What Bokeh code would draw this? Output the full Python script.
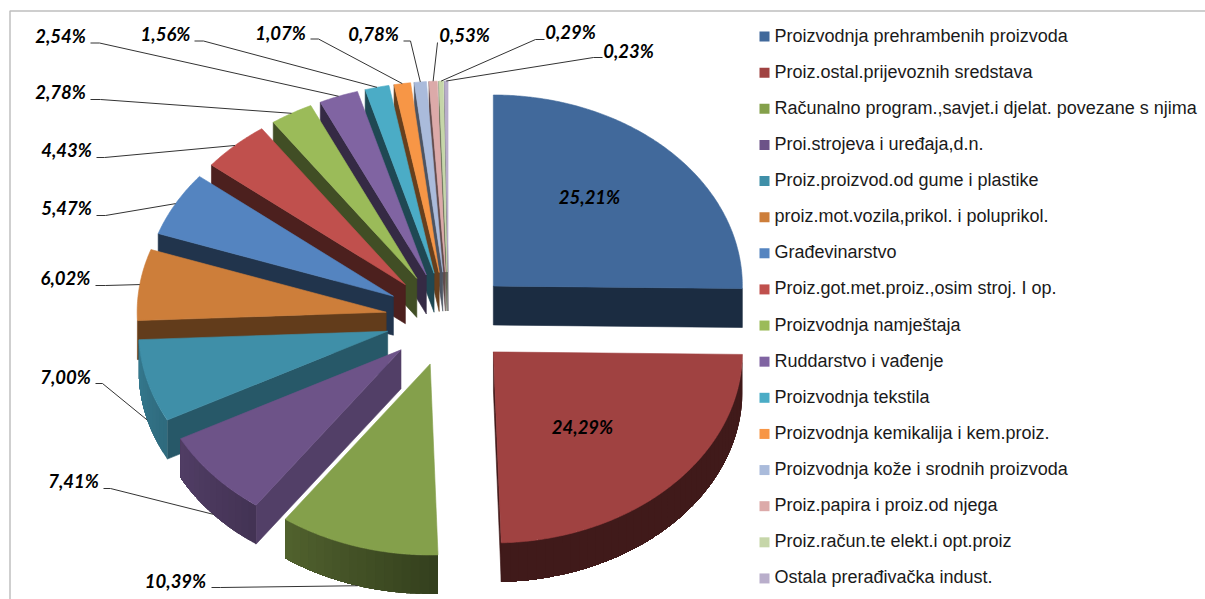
import numpy as np
from bokeh.embed import file_html
from bokeh.resources import INLINE
from bokeh.plotting import figure
from bokeh.models import Range1d, ColumnDataSource
from bokeh.core.properties import value

# ---- data ----
categories = [
    "Proizvodnja prehrambenih proizvoda", "Proiz.ostal.prijevoznih sredstava",
    "Računalno program.,savjet.i djelat. povezane s njima", "Proi.strojeva i uređaja,d.n.",
    "Proiz.proizvod.od gume i plastike", "proiz.mot.vozila,prikol. i poluprikol.",
    "Građevinarstvo", "Proiz.got.met.proiz.,osim stroj. I op.", "Proizvodnja namještaja",
    "Ruddarstvo i vađenje", "Proizvodnja  tekstila", "Proizvodnja kemikalija i kem.proiz.",
    "Proizvodnja kože i srodnih proizvoda", "Proiz.papira i proiz.od njega",
    "Proiz.račun.te elekt.i opt.proiz", "Ostala prerađivačka indust.",
]
shares = [25.21, 24.29, 10.39, 7.41, 7.00, 6.02, 5.47, 4.43, 2.78, 2.54, 1.56, 1.07, 0.78, 0.53, 0.29, 0.23]

# ---- styles ----
colors = ["#41699b", "#a04241", "#84a04b", "#6d5388", "#3f8fa8", "#cd7e3a", "#5484c0", "#c0504d",
          "#9bbb59", "#8064a2", "#4bacc6", "#f79646", "#aabbdb", "#dcaaa9", "#c6d6a9", "#b9aecb"]
wall_shade = [.42, .40, .4, .76, .62, .48, .40, .40, .42, .42, .42, .42, .45, .45, .5, .5]

# ---- layout (page pixels) ----
CX, CY, RX, RY, DEPTH, EXP, EXP_Y = 448, 318.5, 249, 191, 39, 63, 47
label_x = [589, 582, 175, 73, 65, 65, 66, 66, 60, 60, 165, 280, 373, 464, 570, 628]
label_y = [196, 426, 580, 480, 376, 277, 207, 149, 91, 35, 33, 32, 33, 34, 31, 50]
# leader start (x0) and elbow (x1), both at height y; None for slices without leader
lead_x0 = [None, None, 211, 103, 95, 95, 96, 96, 90, 90, 194, 310, 403, 437, 544, 602]
lead_x1 = [None, None, 220, 110, 102, 105, 105, 104, 100, 99, 203, 318, 410, 437, 535, 593]
lead_y = [None, None, 587, 488, 383, 285, 215, 157, 99, 42.5, 40.5, 38.5, 40.5, 42, 39, 57]

def shade(c, f):
    r, g, b = (int(c[i:i + 2], 16) for i in (1, 3, 5))
    return "#%02x%02x%02x" % (int(r * f), int(g * f), int(b * f))

ends = np.cumsum(shares) / sum(shares) * 360
starts = np.concatenate([[0], ends[:-1]])
mids = (starts + ends) / 2

def rim(ax, ay, deg):
    a = np.radians(deg)
    return ax + RX * np.sin(a), ay - RY * np.cos(a)

xs, ys, fills, widths = [], [], [], []
def add(x, y, c, lw=0.6):
    xs.append(list(x)); ys.append(list(y)); fills.append(c); widths.append(lw)

apex = [(CX + EXP * np.sin(np.radians(m)), CY - EXP_Y * np.cos(np.radians(m))) for m in mids]

for i in np.argsort(-np.cos(np.radians(mids))):
    s, e, c = starts[i], ends[i], colors[i]
    ax, ay = apex[i]
    # radial walls
    if s > 180:
        px, py = rim(ax, ay, s)
        add([ax, px, px, ax], [ay, py, py + DEPTH, ay + DEPTH], shade(c, wall_shade[i]))
    if e < 180:
        px, py = rim(ax, ay, e)
        add([ax, px, px, ax], [ay, py, py + DEPTH, ay + DEPTH], shade(c, wall_shade[i]))
    # outer wall: each strip runs to the arc's end and is painted over by the next
    a0, a1 = max(s, 90), min(e, 270)
    if a1 > a0:
        edges = np.linspace(a0, a1, max(2, int((a1 - a0) / 2) + 1))
        fine = np.linspace(a0, a1, 121)
        for u in edges[:-1]:
            arc = np.concatenate([[u], fine[fine > u]])
            ux, uy = rim(ax, ay, arc)
            f = np.interp(u, [90, 178, 215, 242, 270], [.40, .40, .62, .75, .87])
            add([*ux, *ux[::-1]], [*uy, *(uy[::-1] + DEPTH)], shade(c, f), 0)
    # top face
    angs = np.linspace(s, e, max(3, int(e - s) * 2 + 1))
    rx, ry = rim(ax, ay, angs)
    add([ax, *rx], [ay, *ry], c)

p = figure(width=1205, height=599, output_backend="svg", toolbar_location=None,
           x_range=Range1d(0, 1205), y_range=Range1d(599, 0),
           x_axis_location=None, y_axis_location=None, min_border=0,
           outline_line_color=None)
p.grid.visible = False
p.background_fill_color = "white"

# frame
p.line([9.5, 9.5, 1205], [599, 10.5, 10.5], line_color="#bfbfbf", line_width=1.5)

src = ColumnDataSource(dict(xs=xs, ys=ys, fill=fills, lw=widths))
p.patches("xs", "ys", source=src, fill_color="fill", line_color="fill", line_width="lw")

# leaders: target the rim at the middle of the slice (on the side wall at lower left)
for i, m in enumerate(mids):
    if lead_x0[i] is None:
        continue
    tx, ty = rim(*apex[i], m)
    if 180 < m < 270:
        ty += DEPTH
    p.line([lead_x0[i], lead_x1[i], tx], [lead_y[i], lead_y[i], ty], line_color="#333333", line_width=1)

labels = [f"{v:.2f}%".replace(".", ",") for v in shares]
p.text(label_x, label_y, text=labels, text_align="center", text_baseline="middle",
       text_font=value("Lato"), text_font_style="bold italic", text_font_size="18.5px", text_color="#000000")

# legend
n = len(categories)
ly = [36 + k * 36.13 for k in range(n)]
p.rect([764] * n, ly, width=10, height=10, fill_color=colors, line_color=None)
p.text([774] * n, [y - 1 for y in ly], text=categories, text_align="left", text_baseline="middle",
       text_font=value("Liberation Sans"), text_font_size="18px", text_color="#1a1a1a")

open("out.html", "w").write(file_html(p, INLINE))
